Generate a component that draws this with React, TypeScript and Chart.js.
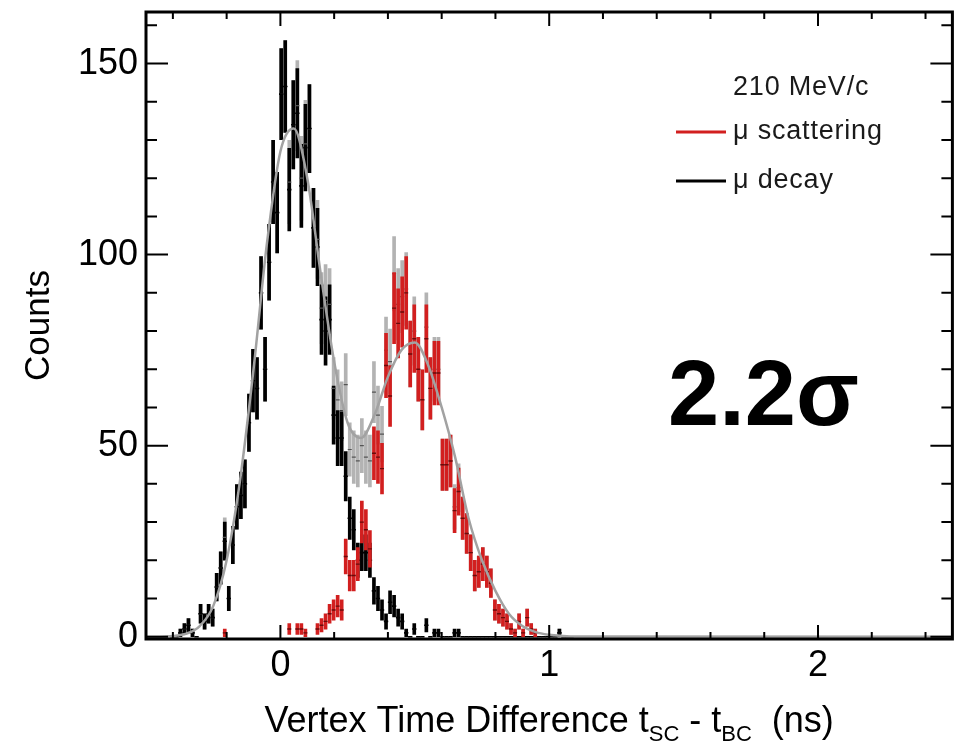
import React, { useEffect, useRef } from "react";
import { Chart, registerables } from "chart.js";
Chart.register(...registerables);

// ---- histogram binning (bin centres) ----
const BIN_START = -0.402; // centre of first bin (ns)
const BIN_WIDTH = 0.015; // ns

// mu decay counts (black)
const DECAY = [
  0, 0, 1, 2, 3, 1, 0, 6, 4, 6,
  5, 13, 18, 25, 10, 24, 34, 37, 40, 56,
  67, 65, 90, 70, 98, 119, 111, 142, 144, 117,
  134, 137, 118, 128, 133, 107, 102, 83, 80, 83,
  58, 52, 52, 42, 31, 28, 20, 22, 22, 20,
  12, 10, 7, 4, 9, 8, 5, 4, 1, 0,
  2, 0, 0, 3, 0, 1, 1, 0, 0, 0,
  1, 1, 0, 0, 0, 0, 0, 0, 0, 0,
  0, 0, 0, 0, 0, 0, 0, 0, 0, 0,
  0, 0, 0, 0, 0, 0, 1, 0, 0, 0,
];

// mu scattering counts (red)
const SCATTER = [
  0, 0, 0, 0, 0, 0, 0, 0, 0, 0,
  0, 0, 0, 1, 0, 0, 0, 0, 0, 0,
  0, 0, 0, 0, 0, 0, 0, 0, 0, 2,
  0, 2, 2, 1, 0, 0, 2, 3, 4, 6,
  7, 8, 7, 21, 16, 16, 19, 30, 28, 23,
  48, 47, 44, 71, 63, 86, 82, 85, 90, 74,
  78, 70, 62, 78, 65, 69, 69, 45, 45, 46,
  33, 38, 31, 27, 22, 16, 17, 19, 17, 14,
  7, 6, 5, 4, 2, 1, 4, 1, 5, 2,
  1, 0, 0, 0, 0, 0, 0, 0, 0, 0,
];

// combined histogram (grey)
const TOTAL = [
  0, 0, 1, 2, 3, 1, 0, 6, 4, 6,
  5, 13, 18, 26, 10, 24, 34, 37, 40, 56,
  67, 65, 90, 70, 98, 119, 111, 142, 144, 119,
  134, 139, 120, 129, 133, 107, 104, 86, 88, 87,
  65, 62, 59, 66, 49, 47, 46, 50, 47, 46,
  64, 58, 53, 75, 72, 95, 87, 89, 91, 74,
  80, 70, 62, 81, 65, 70, 70, 45, 45, 46,
  34, 39, 31, 27, 22, 16, 17, 19, 17, 14,
  7, 6, 5, 4, 2, 1, 4, 1, 5, 2,
  1, 0, 0, 0, 0, 0, 1, 0, 0, 0,
];

// fitted curve (grey line)
const FIT_X = [-0.5, -0.45, -0.4, -0.35, -0.3, -0.25, -0.2, -0.15, -0.1, -0.05, 0, 0.05, 0.1, 0.15, 0.2, 0.25, 0.3, 0.35, 0.4, 0.45, 0.5, 0.55, 0.6, 0.65, 0.7, 0.75, 0.8, 0.85, 0.9, 0.95, 1.0, 1.05, 1.1, 2.5];
const FIT_Y = [0, 0, 0.2, 0.8, 2.8, 8, 20, 41, 70, 103, 127, 133, 120, 95, 72, 56, 52, 58, 68, 75, 77, 71, 60, 47, 31, 20, 12, 6, 2.8, 1.2, 0.5, 0.2, 0.05, 0];

// axis ticks
const X_TICKS = [-0.4, -0.2, 0, 0.2, 0.4, 0.6, 0.8, 1, 1.2, 1.4, 1.6, 1.8, 2, 2.2, 2.4];
const X_LABELLED = [0, 1, 2];
const Y_TICKS = [0, 10, 20, 30, 40, 50, 60, 70, 80, 90, 100, 110, 120, 130, 140, 150, 160];
const Y_LABELLED = [0, 50, 100, 150];

const X_MIN = -0.5;
const X_MAX = 2.5;
const Y_MIN = -0.6;
const Y_MAX = 163.5;

const LEGEND_TITLE = "210 MeV/c";
const LEGEND_ITEMS = ["\u03bc scattering", "\u03bc decay"];
const BIG_LABEL = "2.2\u03c3";
const Y_TITLE = "Counts";

const FONT = '"Liberation Sans", Arial, Helvetica, sans-serif';
const RED = "#d21f1f";
const GREY_BAR = "#b3b3b3";
const FIT_COLOR = "#a2a2a2";

const centre = (i: number) => BIN_START + BIN_WIDTH * i;

const errBars = (arr: number[]) =>
  arr
    .map((c, i) => (c > 0 ? { x: centre(i), y: [c - Math.sqrt(c), c + Math.sqrt(c)] } : null))
    .filter((d) => d !== null);

const markers = (arr: number[], keepZero: boolean) =>
  arr
    .map((c, i) => (c > 0 || keepZero ? { x: centre(i), y: c } : null))
    .filter((d) => d !== null);

const near = (v: number, list: number[]) => list.some((l) => Math.abs(l - v) < 1e-6);

const decorPlugin = {
  id: "decor",
  afterDatasetsDraw(chart: any) {
    const { ctx, chartArea: a, scales } = chart;
    const x = scales.x;
    const y = scales.y;
    ctx.save();
    ctx.strokeStyle = "#000";
    ctx.lineWidth = 2;
    ctx.beginPath();
    x.ticks.forEach((t: any) => {
      const v = t.value;
      const px = x.getPixelForValue(v);
      const len = near(v, X_LABELLED) ? 14 : 7;
      ctx.moveTo(px, a.bottom);
      ctx.lineTo(px, a.bottom - len);
      ctx.moveTo(px, a.top);
      ctx.lineTo(px, a.top + len);
    });
    y.ticks.forEach((t: any) => {
      const v = t.value;
      const py = y.getPixelForValue(v);
      const len = near(v, Y_LABELLED) ? 22 : 11;
      ctx.moveTo(a.left, py);
      ctx.lineTo(a.left + len, py);
      ctx.moveTo(a.right, py);
      ctx.lineTo(a.right - len, py);
    });
    ctx.stroke();
    ctx.lineWidth = 3;
    ctx.strokeRect(a.left, a.top, a.right - a.left, a.bottom - a.top);
    ctx.restore();
  },
  afterDraw(chart: any) {
    const { ctx, chartArea: a } = chart;
    ctx.save();
    // legend
    const lx = a.left + 587;
    ctx.font = `27px ${FONT}`;
    (ctx as any).letterSpacing = "0.8px";
    ctx.textBaseline = "middle";
    ctx.textAlign = "left";
    ctx.fillStyle = "#1a1a1a";
    ctx.fillText(LEGEND_TITLE, lx, a.top + 76);
    const rows = [a.top + 120, a.top + 169];
    const cols = [RED, "#000"];
    LEGEND_ITEMS.forEach((txt, k) => {
      ctx.strokeStyle = cols[k];
      ctx.lineWidth = 3;
      ctx.beginPath();
      ctx.moveTo(lx - 57, rows[k]);
      ctx.lineTo(lx - 7, rows[k]);
      ctx.stroke();
      ctx.fillStyle = "#1a1a1a";
      ctx.fillText(txt, lx, rows[k]);
    });
    (ctx as any).letterSpacing = "0px";
    // big sigma label
    ctx.font = `bold 92px ${FONT}`;
    ctx.textBaseline = "alphabetic";
    ctx.fillStyle = "#000";
    ctx.fillText(BIG_LABEL, a.left + 522, a.top + 413);
    // x title with subscripts
    const fs = 36;
    const main = `${fs}px ${FONT}`;
    const sub = `${Math.round(fs * 0.62)}px ${FONT}`;
    const parts: [string, boolean][] = [
      ["Vertex Time Difference t", false],
      ["SC", true],
      [" - t", false],
      ["BC", true],
      ["  (ns)", false],
    ];
    let w = 0;
    parts.forEach(([t, s]) => {
      ctx.font = s ? sub : main;
      w += ctx.measureText(t).width;
    });
    let cx = (a.left + a.right) / 2 - w / 2;
    const base = 732;
    parts.forEach(([t, s]) => {
      ctx.font = s ? sub : main;
      ctx.fillText(t, cx, s ? base + 9 : base);
      cx += ctx.measureText(t).width;
    });
    ctx.restore();
  },
};

export default function App() {
  const ref = useRef<HTMLCanvasElement>(null);
  useEffect(() => {
    if (!ref.current) return;
    const chart = new Chart(ref.current, {
      type: "bar",
      data: {
        datasets: [
          {
            type: "bar",
            label: "total",
            data: errBars(TOTAL) as any,
            backgroundColor: GREY_BAR,
            barThickness: 3,
            grouped: false,
            borderWidth: 0,
            order: 6,
          } as any,
          {
            type: "bar",
            label: "decay",
            data: errBars(DECAY) as any,
            backgroundColor: "#000",
            barThickness: 3,
            grouped: false,
            borderWidth: 0,
            order: 5,
          } as any,
          {
            type: "line",
            label: "decay-c",
            data: markers(DECAY, true) as any,
            showLine: false,
            pointStyle: "line",
            pointRadius: 2.2,
            pointBorderWidth: 1.6,
            pointBorderColor: "#000",
            order: 4,
          } as any,
          {
            type: "line",
            label: "total-c",
            data: markers(TOTAL, false) as any,
            showLine: false,
            pointStyle: "line",
            pointRadius: 2,
            pointBorderWidth: 1.2,
            pointBorderColor: "#555",
            order: 4.5,
          } as any,
          {
            type: "bar",
            label: "scatter",
            data: errBars(SCATTER) as any,
            backgroundColor: RED,
            barThickness: 3,
            grouped: false,
            borderWidth: 0,
            order: 3,
          } as any,
          {
            type: "line",
            label: "scatter-c",
            data: markers(SCATTER, false) as any,
            showLine: false,
            pointStyle: "line",
            pointRadius: 2,
            pointBorderWidth: 1.4,
            pointBorderColor: "#6a0a0a",
            order: 2,
          } as any,
          {
            type: "line",
            label: "fit",
            data: FIT_X.map((xv, i) => ({ x: xv, y: FIT_Y[i] })) as any,
            borderColor: FIT_COLOR,
            borderWidth: 2.5,
            pointRadius: 0,
            cubicInterpolationMode: "monotone",
            fill: false,
            order: 1,
          } as any,
        ],
      },
      options: {
        animation: false,
        responsive: false,
        maintainAspectRatio: false,
        events: [],
        layout: { padding: { top: 12, right: 2, left: 0, bottom: 0 } },
        plugins: { legend: { display: false }, tooltip: { enabled: false } },
        scales: {
          x: {
            type: "linear",
            min: X_MIN,
            max: X_MAX,
            offset: false,
            grid: { display: false, drawTicks: false },
            border: { display: false },
            afterBuildTicks: (s: any) => {
              s.ticks = X_TICKS.map((v) => ({ value: v }));
            },
            ticks: {
              autoSkip: false,
              maxRotation: 0,
              padding: 5,
              color: "#000",
              font: { family: FONT, size: 36 },
              callback: (v: any) => (near(Number(v), X_LABELLED) ? String(Math.round(Number(v))) : ""),
            },
            afterFit: (s: any) => {
              s.height = 104;
              s.paddingLeft = 0;
              s.paddingRight = 0;
            },
          },
          y: {
            type: "linear",
            min: Y_MIN,
            max: Y_MAX,
            grid: { display: false, drawTicks: false },
            border: { display: false },
            afterBuildTicks: (s: any) => {
              s.ticks = Y_TICKS.map((v) => ({ value: v }));
            },
            ticks: {
              autoSkip: false,
              padding: 8,
              color: "#000",
              font: { family: FONT, size: 36 },
              callback: (v: any) => (near(Number(v), Y_LABELLED) ? String(Math.round(Number(v))) : ""),
            },
            title: {
              display: true,
              text: Y_TITLE,
              color: "#000",
              font: { family: FONT, size: 35 },
              padding: { top: 18, bottom: 0 },
            },
            afterFit: (s: any) => {
              s.width = 146;
              s.paddingTop = 0;
              s.paddingBottom = 0;
            },
          },
        },
      } as any,
      plugins: [decorPlugin],
    } as any);
    return () => chart.destroy();
  }, []);
  return (
    <canvas
      ref={ref}
      width={958}
      height={743}
      style={{ position: "fixed", left: 0, top: 0, width: 958, height: 743, background: "#fff" }}
    />
  );
}
